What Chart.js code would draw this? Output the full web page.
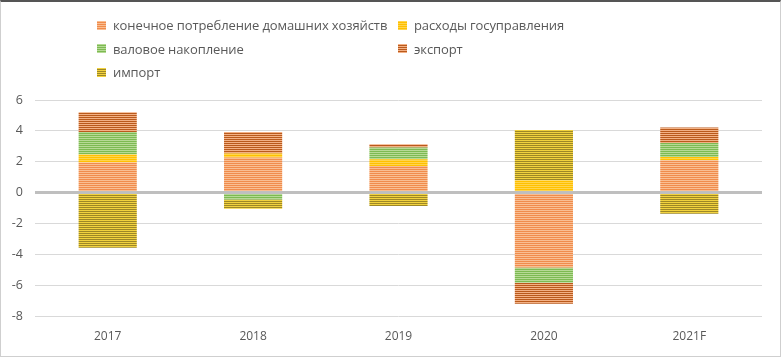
<!DOCTYPE html>
<html><head><meta charset="utf-8">
<script src="https://cdn.jsdelivr.net/npm/chart.js@4"></script>
<style>
html,body{margin:0;padding:0;background:#fff}
#wrap{position:relative;width:781px;height:357px;overflow:hidden}
#frame{position:absolute;left:0;top:0;width:781px;height:357px;box-sizing:border-box;border:1px solid #CFCFCF;border-top:2px solid #555;pointer-events:none}
canvas{position:absolute;left:0;top:0}
.li{position:absolute;font-family:"Open Sans",sans-serif;font-size:13px;color:#595959;white-space:nowrap;display:flex;align-items:center;letter-spacing:-0.1px}
.sw{width:9px;height:9px;margin-right:7px;display:inline-block}
</style></head>
<body><div id="wrap"><canvas id="c" width="781" height="357"></canvas><div id="legend"></div><div id="frame"></div></div>
<script>
const categories = ["2017", "2018", "2019", "2020", "2021F"];
const seriesNames = ["конечное потребление домашних хозяйств", "расходы госуправления", "валовое накопление", "экспорт", "импорт"];
const consumption = [1.95, 2.27, 1.73, -4.85, 2.10];
const government = [0.52, 0.26, 0.43, 0.80, 0.20];
const accumulation = [1.46, -0.45, 0.76, -1.00, 0.91];
const exports_ = [1.27, 1.40, 0.22, -1.36, 1.00];
const imports_ = [-3.57, -0.60, -0.87, 3.25, -1.37];
const yTicks = [-8, -6, -4, -2, 0, 2, 4, 6];

const stripeColors = [
  ["#F9BE92", "#F08C4C"],
  ["#FFD54F", "#FFC000"],
  ["#B6DA96", "#7DBA52"],
  ["#F3B185", "#BA5A1C"],
  ["#F2D23E", "#9E8826"]
];
function stripes(c) {
  const p = document.createElement("canvas");
  p.width = 2; p.height = 2;
  const g = p.getContext("2d");
  g.fillStyle = c[0]; g.fillRect(0, 0, 2, 1);
  g.fillStyle = c[1]; g.fillRect(0, 1, 2, 1);
  return document.getElementById("c").getContext("2d").createPattern(p, "repeat");
}
const values = [consumption, government, accumulation, exports_, imports_];
const datasets = values.map((v, i) => ({
  label: seriesNames[i],
  data: v,
  backgroundColor: stripes(stripeColors[i]),
  borderWidth: 0,
  categoryPercentage: 1,
  barPercentage: 0.4,
  stack: "s"
}));

const leg = document.getElementById("legend");
seriesNames.forEach((n, i) => {
  const d = document.createElement("div");
  d.className = "li";
  d.style.left = (97 + (i % 2) * 301) + "px";
  d.style.top = (16 + Math.floor(i / 2) * 23.5) + "px";
  const s = document.createElement("span");
  s.className = "sw";
  s.style.background = "repeating-linear-gradient(to bottom," + stripeColors[i][0] + " 0 1px," + stripeColors[i][1] + " 1px 2px)";
  d.appendChild(s);
  d.appendChild(document.createTextNode(n));
  leg.appendChild(d);
});

new Chart(document.getElementById("c"), {
  type: "bar",
  data: { labels: categories, datasets },
  options: {
    responsive: false,
    animation: false,
    layout: { padding: { top: 100, left: 0, right: 19, bottom: 0 } },
    plugins: { legend: { display: false }, tooltip: { enabled: false } },
    scales: {
      x: {
        stacked: true,
        grid: { display: false, drawTicks: false },
        border: { display: false },
        ticks: { color: "#595959", font: { family: "Open Sans", size: 12 }, padding: 13 },
        afterFit: (s) => { s.height = 41; }
      },
      y: {
        stacked: true,
        min: -8, max: 6,
        afterBuildTicks: (s) => { s.ticks = yTicks.map(v => ({ value: v })); },
        afterFit: (s) => { s.width = 35; },
        grid: {
          drawTicks: false,
          color: (ctx) => ctx.tick && ctx.tick.value === 0 ? "#BFBFBF" : "#D9D9D9",
          lineWidth: (ctx) => ctx.tick && ctx.tick.value === 0 ? 3 : 1
        },
        border: { display: false },
        ticks: { color: "#595959", font: { family: "Open Sans", size: 12.5 }, padding: 12 }
      }
    }
  }
});
</script></body></html>
